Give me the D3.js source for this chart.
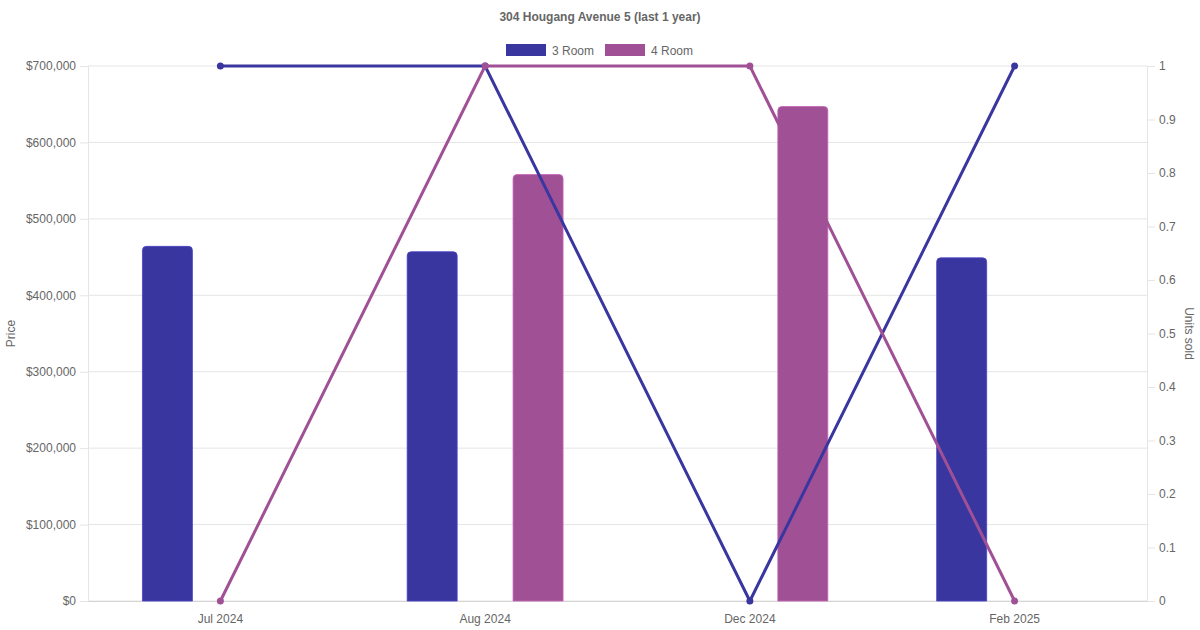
<!DOCTYPE html>
<html>
<head>
<meta charset="utf-8">
<script src="https://cdn.jsdelivr.net/npm/d3@7"></script>
<style>
	body { margin: 0; background: #fff; }
	text { font-family: "Liberation Sans", Arial, sans-serif; fill: #666; }
</style>
</head>
<body>
<div id="chart"></div>
<script>
const months = ['Jul 2024', 'Aug 2024', 'Dec 2024', 'Feb 2025'];
const seriesNames = ['3 Room', '4 Room'];
const seriesColors = ['#3a36a0', '#a05195'];
const price3Room = [464000, 457000, null, 449000];
const price4Room = [null, 558000, 647000, null];
const units3Room = [1, 1, 0, 1];
const units4Room = [0, 1, 1, 0];
const priceTicks = [0, 100000, 200000, 300000, 400000, 500000, 600000, 700000];
const unitTicks = [0, 0.1, 0.2, 0.3, 0.4, 0.5, 0.6, 0.7, 0.8, 0.9, 1];

(() => {
	const W = 1200, H = 630;
	const margin = { top: 66, right: 53, bottom: 29, left: 88 };
	const width = W - margin.left - margin.right;
	const height = H - margin.top - margin.bottom;

	const svg = d3.select('#chart').append('svg')
		.attr('width', W)
		.attr('height', H);
	const chart = svg.append('g')
		.attr('transform', `translate(${margin.left}, ${margin.top})`);

	const x = d3.scaleBand()
		.domain(months)
		.range([0, width]);
	const slot = d3.scaleBand()
		.domain(seriesNames)
		.range([x.bandwidth() * 0.1, x.bandwidth() * 0.9]);
	const yPrice = d3.scaleLinear()
		.domain([0, 700000])
		.range([height, 0]);
	const yUnits = d3.scaleLinear()
		.domain([0, 1])
		.range([height, 0]);
	const barWidth = 50;

	// grid
	chart.append('g')
		.selectAll('line')
		.data(priceTicks)
		.enter().append('line')
			.attr('x1', 0)
			.attr('x2', width)
			.attr('y1', d => yPrice(d))
			.attr('y2', d => yPrice(d))
			.attr('stroke', '#e5e5e5');

	// axes
	const leftAxis = chart.append('g')
		.call(d3.axisLeft(yPrice)
			.tickValues(priceTicks)
			.tickSize(8)
			.tickPadding(4)
			.tickFormat(d => '$' + d3.format(',')(d)));
	const rightAxis = chart.append('g')
		.attr('transform', `translate(${width}, 0)`)
		.call(d3.axisRight(yUnits)
			.tickValues(unitTicks)
			.tickSize(8)
			.tickPadding(4)
			.tickFormat(d => d3.format('~g')(d)));
	const bottomAxis = chart.append('g')
		.attr('transform', `translate(0, ${height})`)
		.call(d3.axisBottom(x).tickSize(0).tickPadding(13));
	[leftAxis, rightAxis, bottomAxis].forEach(a => {
		a.select('.domain').attr('stroke', '#e5e5e5');
		a.selectAll('.tick line').attr('stroke', '#e5e5e5');
		a.selectAll('text').style('font-size', '12px').attr('fill', '#666');
	});
	bottomAxis.select('.domain').attr('stroke', '#d4d4d4');

	// axis titles
	svg.append('text')
		.attr('transform', `translate(15, ${margin.top + height / 2}) rotate(-90)`)
		.attr('text-anchor', 'middle')
		.style('font-size', '12px')
		.text('Price');
	svg.append('text')
		.attr('transform', `translate(1185, ${margin.top + height / 2}) rotate(90)`)
		.attr('text-anchor', 'middle')
		.style('font-size', '12px')
		.text('Units sold');

	// bars with rounded tops
	const roundTop = (x0, y0, w, h, r) => {
		r = Math.min(r, h, w / 2);
		return `M${x0},${y0 + h}V${y0 + r}Q${x0},${y0} ${x0 + r},${y0}` +
			`H${x0 + w - r}Q${x0 + w},${y0} ${x0 + w},${y0 + r}V${y0 + h}Z`;
	};
	const priceSeries = [price3Room, price4Room];
	priceSeries.forEach((values, si) => {
		const data = months.map((m, i) => ({ m, v: values[i] })).filter(d => d.v != null);
		chart.selectAll(`.bar-${si}`)
			.data(data)
			.enter().append('path')
				.attr('class', `bar-${si}`)
				.attr('d', d => {
					const cx = x(d.m) + slot(seriesNames[si]) + slot.bandwidth() / 2;
					return roundTop(cx - barWidth / 2, yPrice(d.v), barWidth, height - yPrice(d.v), 4);
				})
				.attr('fill', seriesColors[si])
				.attr('stroke', d3.color(seriesColors[si]).brighter(0.6))
				.attr('stroke-width', 0.8);
	});

	// lines
	const unitSeries = [units3Room, units4Room];
	const line = d3.line()
		.x((d, i) => x(months[i]) + x.bandwidth() / 2)
		.y(d => yUnits(d));
	unitSeries.forEach((values, si) => {
		chart.append('path')
			.datum(values)
			.attr('d', line)
			.attr('fill', 'none')
			.attr('stroke', seriesColors[si])
			.attr('stroke-width', 3);
		chart.selectAll(`.pt-${si}`)
			.data(values)
			.enter().append('circle')
				.attr('class', `pt-${si}`)
				.attr('cx', (d, i) => x(months[i]) + x.bandwidth() / 2)
				.attr('cy', d => yUnits(d))
				.attr('r', 3.5)
				.attr('fill', seriesColors[si]);
	});

	// title
	svg.append('text')
		.attr('x', W / 2)
		.attr('y', 21)
		.attr('text-anchor', 'middle')
		.style('font-size', '12px')
		.style('font-weight', 'bold')
		.text('304 Hougang Avenue 5 (last 1 year)');

	// legend
	const legendX = [506, 605];
	seriesNames.forEach((name, i) => {
		const g = svg.append('g').attr('transform', `translate(${legendX[i]}, 44)`);
		g.append('rect')
			.attr('width', 40)
			.attr('height', 12)
			.attr('fill', seriesColors[i]);
		g.append('text')
			.attr('x', 46)
			.attr('y', 10.5)
			.style('font-size', '12px')
			.text(name);
	});
})();
</script>
</body>
</html>
